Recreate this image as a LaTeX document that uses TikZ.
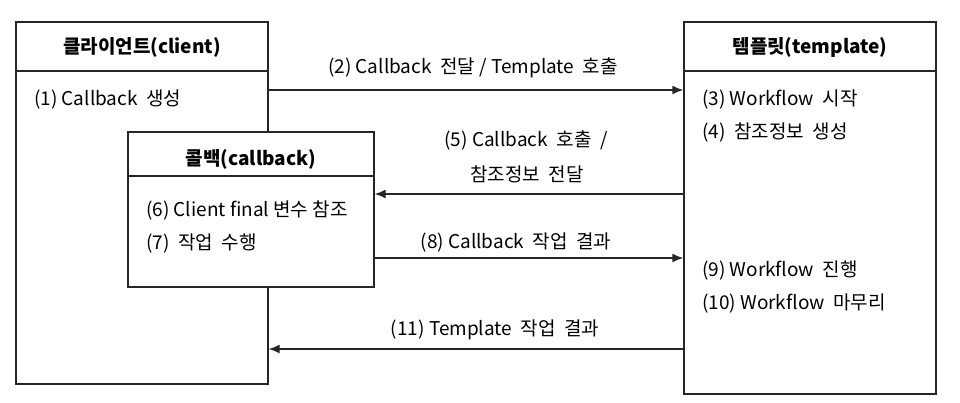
\documentclass[tikz,border=0pt]{standalone}
\usepackage{fontspec}
\setmainfont{Noto Sans CJK KR}
\usetikzlibrary{arrows.meta}
\newcommand{\ws}{\hspace{0.45em}}
\begin{document}
\begin{tikzpicture}[x=1pt,y=-1pt,
  box/.style={draw=black!85,line width=1.4pt,fill=white,rectangle,inner sep=0pt},
  line/.style={draw=black!85,line width=1.4pt},
  arr/.style={line,-{Latex[length=11pt,width=9pt]}},
  hdr/.style={font=\fontsize{19}{22}\selectfont\bfseries,anchor=center},
  txt/.style={font=\fontsize{19}{22}\selectfont,anchor=west,inner sep=0pt},
  lbl/.style={font=\fontsize{19}{22}\selectfont,anchor=center,inner sep=0pt,align=center}]
\useasboundingbox (0,0) rectangle (960,402);
% client box
\node[box,minimum width=252pt,minimum height=362pt] (client) at (142,203) {};
\draw[line] (client.west |- 0,71) -- (client.east |- 0,71);
\node[hdr] (chead) at (142,47) {클라이언트(client)};
\node[txt] (t1) at (34,100) {(1) Callback\ws 생성};
% template box
\node[box,minimum width=252pt,minimum height=372pt] (template) at (810,208) {};
\draw[line] (template.west |- 0,71) -- (template.east |- 0,71);
\node[hdr] (thead) at (810,47) {템플릿(template)};
\node[txt] (t3) at (702,100) {(3) Workflow\ws 시작};
\node[txt] (t4) at (702,132) {(4)\ws 참조정보\ws 생성};
\node[txt] (t9) at (702,270) {(9) Workflow\ws 진행};
\node[txt] (t10) at (702,303) {(10) Workflow\ws 마무리};
% callback box
\node[box,minimum width=246pt,minimum height=155pt] (callback) at (251,209.5) {};
\draw[line] (callback.west |- 0,176) -- (callback.east |- 0,176);
\node[hdr] (bhead) at (251,159) {콜백(callback)};
\node[txt] (t6) at (146,210) {(6) Client final 변수 참조};
\node[txt] (t7) at (146,243) {(7)\ws 작업\ws 수행};
% arrows
\coordinate (y2) at (0,90);
\coordinate (y5) at (0,194);
\coordinate (y8) at (0,258);
\coordinate (y11) at (0,349);
\draw[arr] (client.east |- y2) -- (template.west |- y2);
\draw[arr] (template.west |- y5) -- (callback.east |- y5);
\draw[arr] (callback.east |- y8) -- (template.west |- y8);
\draw[arr] (template.west |- y11) -- (client.east |- y11);
% labels
\node[lbl] (l2) at (473,68) {(2) Callback\ws 전달 / Template\ws 호출};
\node[lbl] (l5a) at (526,140) {(5) Callback\ws 호출\ws /};
\node[lbl] (l5b) at (527,174) {참조정보\ws 전달};
\node[lbl] (l8) at (516,242) {(8) Callback\ws 작업\ws 결과};
\node[lbl] (l11) at (495,330) {(11) Template\ws 작업\ws 결과};
\end{tikzpicture}
\end{document}
